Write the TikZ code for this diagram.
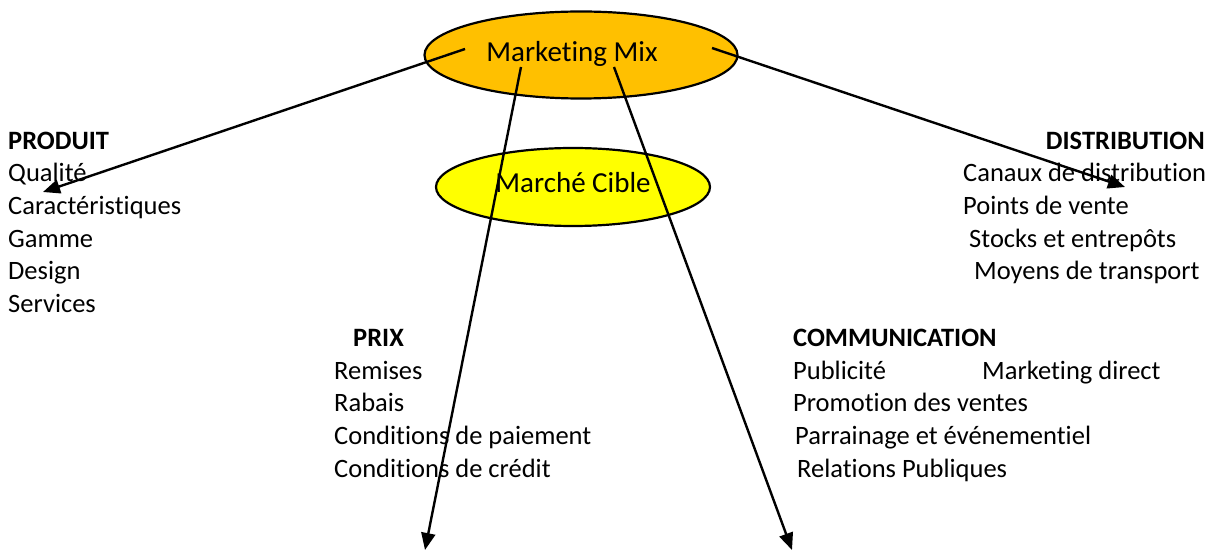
\documentclass[tikz,border=0pt]{standalone}
\usepackage{fontspec}
\setmainfont{Carlito}[Ligatures=NoCommon]
\usetikzlibrary{shapes.geometric,arrows.meta}
\definecolor{mmorange}{RGB}{255,192,0}
\definecolor{mcyellow}{RGB}{255,255,0}
\begin{document}
\begin{tikzpicture}[x=1pt,y=-1pt,
  txt/.style={anchor=base west,inner sep=0pt,font=\fontsize{26.5}{32}\selectfont},
  hd/.style={anchor=base west,inner sep=0pt,font=\fontsize{26.5}{32}\selectfont\bfseries},
  oval/.style={ellipse,draw=black,line width=2.2pt,inner sep=0pt},
  big/.style={anchor=base,inner sep=0pt,font=\fontsize{29}{34}\selectfont},
  conn/.style={line width=2.4pt,-{Triangle[length=17pt,width=14pt]}}]
\useasboundingbox (0,0) rectangle (1211,553);
% ellipses
\node[oval,fill=mmorange,minimum width=313pt,minimum height=87pt] (mm) at (581,55) {};
\node[big] (mmt) at (572,62) {Marketing Mix};
\node[oval,fill=mcyellow,minimum width=274pt,minimum height=78pt] (mc) at (573,187) {};
\node[big] (mct) at (573,193) {Marché Cible};
% PRODUIT
\node[hd] (prod) at (8,150) {PRODUIT};
\node[txt] (p1) at (8,182) {Qualité};
\node[txt] (p2) at (8,215) {Caractéristiques};
\node[txt] (p3) at (8,248) {Gamme};
\node[txt] (p4) at (8,280) {Design};
\node[txt] (p5) at (8,313) {Services};
% DISTRIBUTION
\node[hd,anchor=base east] (dist) at (1205,150) {DISTRIBUTION};
\node[txt] (d1) at (963,182) {Canaux de distribution};
\node[txt] (d2) at (963,215) {Points de vente};
\node[txt] (d3) at (969,248) {Stocks et entrepôts};
\node[txt] (d4) at (974,280) {Moyens de transport};
% PRIX
\node[hd] (prix) at (353,347) {PRIX};
\node[txt] (r1) at (334,380) {Remises};
\node[txt] (r2) at (334,412) {Rabais};
\node[txt] (r3) at (334,445) {Conditions de paiement};
\node[txt] (r4) at (334,477) {Conditions de crédit};
% COMMUNICATION
\node[hd] (comm) at (793,347) {COMMUNICATION};
\node[txt] (c1) at (793,380) {Publicité};
\node[txt] (c1b) at (982,380) {Marketing direct};
\node[txt] (c2) at (793,412) {Promotion des ventes};
\node[txt] (c3) at (795,445) {Parrainage et événementiel};
\node[txt] (c4) at (797,477) {Relations Publiques};
% arrow ends
\coordinate (s1) at (465,49);
\coordinate (e1) at (43,192);
\coordinate (s2) at (712,48);
\coordinate (e2) at (1125,187);
\coordinate (s3) at (521,67);
\coordinate (e3) at (425,550);
\coordinate (s4) at (614,67);
\coordinate (e4) at (792,550);
\draw[conn] (s1) -- (e1);
\draw[conn] (s2) -- (e2);
\draw[conn] (s3) -- (e3);
\draw[conn] (s4) -- (e4);
\end{tikzpicture}
\end{document}
